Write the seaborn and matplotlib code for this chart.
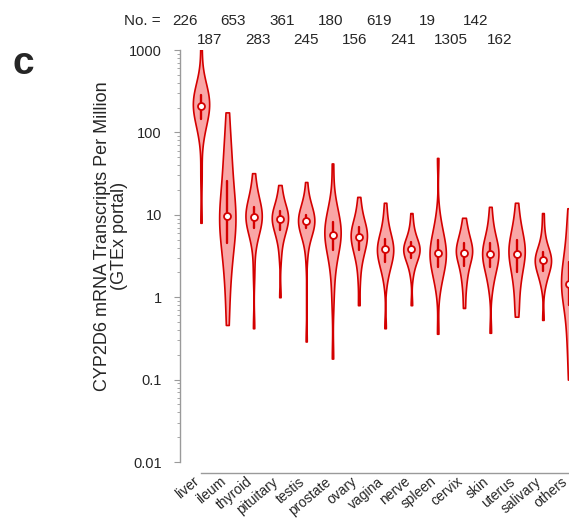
import pandas as pd
import numpy as np
import matplotlib
matplotlib.use("Agg")
import matplotlib.pyplot as plt
import matplotlib.transforms as mtransforms
import seaborn as sns

# --------------------------------------------------
# DATA (TPM values)
# --------------------------------------------------

tissues = [
    "liver", "ileum", "thyroid", "pituitary", "testis", "prostate", "ovary",
    "vagina", "nerve", "spleen", "cervix", "skin", "uterus", "salivary", "others",
]

sample_counts = [226, 187, 653, 283, 361, 245, 180, 156, 619, 241, 19, 1305, 142, 162]

liver = [8, 30, 85, 110, 130, 145, 160, 175, 190, 200, 210, 220, 235, 250, 265, 283, 300, 330, 380, 450, 1150]
ileum = [0.46, 1.0, 1.8, 2.5, 3.5, 4.5, 5.5, 6.5, 7.5, 8.5, 9.6, 11, 13, 15, 19, 26, 33, 45, 60, 90, 175]
thyroid = [0.42, 2.0, 4.3, 5.5, 6.3, 7.0, 7.6, 8.2, 8.7, 9.1, 9.4, 9.8, 10.3, 11, 11.8, 12.5, 13.5, 15, 18, 22, 32]
pituitary = [1.0, 3.0, 4.5, 5.4, 6.0, 6.5, 7.1, 7.7, 8.2, 8.6, 8.9, 9.3, 9.7, 10.2, 10.6, 11, 11.8, 13, 15, 18, 23]
testis = [0.29, 3.1, 5.0, 5.9, 6.5, 6.9, 7.3, 7.7, 8.0, 8.2, 8.4, 8.6, 8.9, 9.2, 9.6, 10, 10.6, 11.5, 13, 16, 25]
prostate = [0.18, 0.85, 1.6, 2.4, 3.1, 3.7, 4.2, 4.7, 5.1, 5.4, 5.7, 6.0, 6.4, 6.9, 7.5, 8.2, 9.0, 10, 12, 15, 42]
ovary = [0.8, 1.6, 2.4, 3.0, 3.4, 3.7, 4.1, 4.5, 4.8, 5.1, 5.4, 5.7, 6.0, 6.3, 6.7, 7.1, 7.7, 8.5, 10, 12, 16.5]
vagina = [0.42, 1.5, 2.0, 2.3, 2.5, 2.7, 3.0, 3.2, 3.4, 3.6, 3.8, 4.0, 4.2, 4.4, 4.7, 5.1, 5.6, 6.3, 7.5, 9.5, 14]
nerve = [0.8, 1.8, 2.3, 2.6, 2.8, 3.0, 3.2, 3.4, 3.5, 3.7, 3.8, 3.9, 4.1, 4.2, 4.4, 4.7, 5.0, 5.5, 6.3, 7.5, 10.5]
spleen = [0.36, 1.2, 1.6, 1.9, 2.1, 2.3, 2.6, 2.8, 3.0, 3.2, 3.4, 3.6, 3.8, 4.1, 4.5, 5.0, 5.5, 6.3, 7.5, 10, 49]
cervix = [0.74, 1.2, 1.6, 2.0, 2.2, 2.6, 2.9, 3.2, 3.4, 3.4, 3.6, 3.8, 4.1, 4.4, 4.8, 5.3, 6.0, 7.0, 9.2]
skin = [0.37, 1.2, 1.6, 1.9, 2.1, 2.3, 2.6, 2.8, 3.0, 3.2, 3.3, 3.5, 3.7, 4.0, 4.3, 4.6, 5.0, 5.7, 6.8, 8.5, 12.5]
uterus = [0.58, 0.75, 1.1, 1.4, 1.7, 2.0, 2.3, 2.6, 2.9, 3.1, 3.3, 3.6, 3.9, 4.2, 4.6, 5.0, 5.6, 6.4, 7.5, 9.5, 14]
salivary = [0.53, 1.3, 1.6, 1.8, 2.0, 2.1, 2.3, 2.4, 2.6, 2.7, 2.8, 2.9, 3.0, 3.2, 3.3, 3.5, 3.8, 4.2, 5.0, 6.5, 10.5]
others = [0.1, 0.2, 0.3, 0.45, 0.6, 0.8, 0.95, 1.1, 1.2, 1.3, 1.45, 1.6, 1.8, 2.0, 2.3, 2.7, 3.2, 4.0, 5.5, 8, 12]

values = [liver, ileum, thyroid, pituitary, testis, prostate, ovary,
          vagina, nerve, spleen, cervix, skin, uterus, salivary, others]

df = pd.DataFrame({
    "tissue": [t for t, v in zip(tissues, values) for _ in v],
    "tpm": [x for v in values for x in v],
})

# --------------------------------------------------
# STYLE
# --------------------------------------------------

sns.set_style("ticks")
plt.rcParams["font.family"] = ["Liberation Sans", "DejaVu Sans"]

FILL = "#f9a6a6"
EDGE = "#d40000"
GREY = "#9a9a9a"

W, H = 569, 518
fig = plt.figure(figsize=(W / 100, H / 100), dpi=100)

# axes placed in pixel terms; it runs past the right edge like the cropped original
left, top, bottom = 180, 50, 462
spacing = 26.3
x0 = -(201 - left) / spacing
x1 = 14.6
ax_w = (x1 - x0) * spacing
ax = fig.add_axes([left / W, 1 - bottom / H, ax_w / W, (bottom - top) / H])

# --------------------------------------------------
# VIOLINS
# --------------------------------------------------

sns.violinplot(
    data=df, x="tissue", y="tpm",
    order=tissues,
    log_scale=True,
    cut=0,
    bw_adjust=0.8,
    density_norm="width",
    width=0.62,
    color=FILL,
    saturation=1,
    linecolor=EDGE,
    linewidth=1.2,
    inner="box",
    inner_kws=dict(box_width=1.7, whis_width=0, marker=""),
    ax=ax,
)

sns.pointplot(
    data=df, x="tissue", y="tpm",
    order=tissues,
    estimator="median",
    errorbar=None,
    linestyle="none",
    marker="o",
    color=EDGE,
    markerfacecolor="white",
    markeredgecolor=EDGE,
    markersize=5,
    markeredgewidth=1.3,
    ax=ax,
)

# --------------------------------------------------
# AXES
# --------------------------------------------------

# spines first: moving a spine resets the ticks
for side in ["top", "right"]:
    ax.spines[side].set_visible(False)
ax.spines["left"].set_color(GREY)
ax.spines["left"].set_linewidth(1)
ax.spines["bottom"].set_color(GREY)
ax.spines["bottom"].set_linewidth(1)
ax.spines["bottom"].set_position(("outward", 8))
ax.spines["bottom"].set_bounds(0, 14.6)

ax.set_xlim(x0, x1)
ax.set_ylim(0.01, 1000)
ax.set_yticks([0.01, 0.1, 1, 10, 100, 1000])
ax.set_yticklabels(["0.01", "0.1", "1", "10", "100", "1000"], fontsize=10.5)
ax.tick_params(axis="y", which="major", length=4, width=0.8, color=GREY, pad=9)
ax.tick_params(axis="y", which="minor", length=2.5, width=0.6, color=GREY)
ax.tick_params(axis="x", length=0, pad=1)

ax.set_xticks(range(len(tissues)))
ax.set_xticklabels(tissues, rotation=40, ha="right", va="top",
                   rotation_mode="anchor", fontsize=10)
offset = mtransforms.ScaledTranslation(-8 / 100, 0, fig.dpi_scale_trans)
for lab in ax.get_xticklabels():
    lab.set_transform(lab.get_transform() + offset)

ax.set_xlabel("")
ax.set_ylabel("CYP2D6 mRNA Transcripts Per Million\n(GTEx portal)",
              fontsize=13, linespacing=1.0)
ax.yaxis.set_label_coords((128 - left) / ax_w, (bottom - 236) / (bottom - top))

# --------------------------------------------------
# SAMPLE COUNTS + PANEL LETTER
# --------------------------------------------------

fig.text(161 / W, 1 - 21 / H, "No. =", ha="right", va="center", fontsize=11)
for i, n in enumerate(sample_counts):
    y = 21 if i % 2 == 0 else 39.5
    fig.text((185 + i * 24.2) / W, 1 - y / H, str(n),
             ha="center", va="center", fontsize=11)

fig.text(23.5 / W, 1 - 64 / H, "c", ha="center", va="center",
         fontsize=28, fontweight="bold")

plt.savefig("out.png", dpi=100)
